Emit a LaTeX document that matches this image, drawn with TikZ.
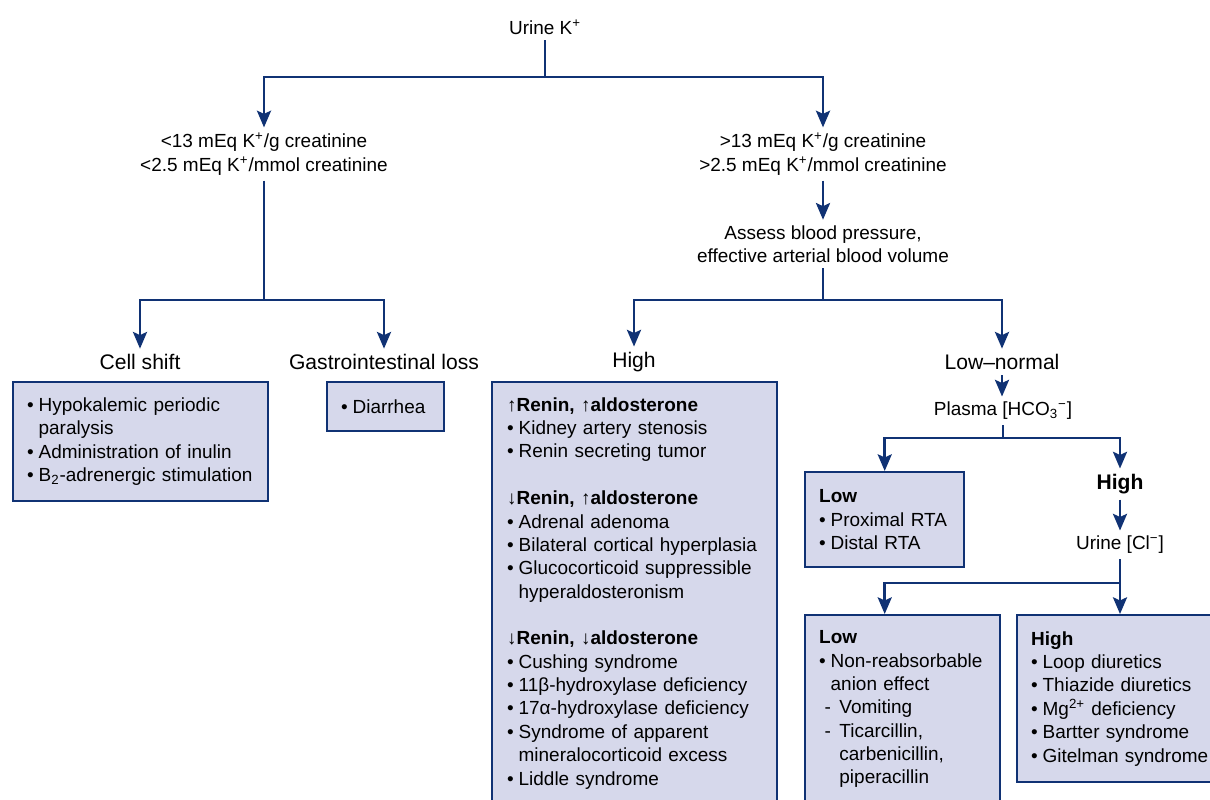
\documentclass[tikz,border=0pt]{standalone}
\usepackage{fontspec}
\setmainfont{Liberation Sans}
\usetikzlibrary{arrows.meta,positioning}
\definecolor{navy}{RGB}{16,50,116}
\definecolor{boxfill}{RGB}{214,216,235}
\newcommand{\bul}{\makebox[6.5pt][l]{\textbullet}}
\newcommand{\ind}{\hspace*{6.5pt}}
\newcommand{\dsh}{\hspace*{3pt}\makebox[8.5pt][l]{-}}
\newcommand{\dind}{\hspace*{11.5pt}}

\begin{document}
\begin{tikzpicture}[x=0.02cm,y=-0.02cm,
  every node/.style={font=\fontsize{10.8}{13.3}\selectfont},
  lbl/.style={align=center,inner sep=3pt},
  head/.style={font=\fontsize{12}{14}\selectfont,inner sep=3pt},
  listbox/.style={draw=navy,fill=boxfill,line width=1.4pt,anchor=north west,align=left,inner xsep=0.28cm,inner ysep=0pt},
  line/.style={draw=navy,line width=1.5pt},
  arr/.style={line,-{Stealth[length=9.5pt,width=8pt,inset=1.8pt]}}
]
\useasboundingbox (0,0) rectangle (1210,799);
\clip (0,0) rectangle (1210,799);

% Urine potassium
\node[lbl] (urine) at (545,27) {Urine K\textsuperscript{+}};
\node[lbl] (lowK) at (264,154) {<13 mEq K\textsuperscript{+}/g creatinine\\<2.5 mEq K\textsuperscript{+}/mmol creatinine};
\node[lbl] (highK) at (823,154) {>13 mEq K\textsuperscript{+}/g creatinine\\>2.5 mEq K\textsuperscript{+}/mmol creatinine};
\node[lbl] (assess) at (823,244) {Assess blood pressure,\\effective arterial blood volume};

% Low urine K
\node[head] (cell) at (140,362) {Cell shift};
\node[head] (gi) at (384,362) {Gastrointestinal loss};
\node[listbox,minimum width=5.1cm,minimum height=2.38cm,text width=4.54cm] (cellbox) at (12,381)
  {\bul Hypokalemic periodic\\
   \ind paralysis\\
   \bul Administration of inulin\\
   \bul B\textsubscript{2}-adrenergic stimulation};
\node[listbox,minimum width=2.34cm,minimum height=0.98cm,text width=1.78cm] (diarbox) at (326,381)
  {\bul Diarrhea};

% High urine K
\node[head] (high) at (634,362) {High};
\node[head] (lownorm) at (1002,362) {Low--normal};
\node[listbox,minimum width=5.7cm,minimum height=8.44cm,text width=5.1cm,inner xsep=0.3cm] (highbox) at (491,381)
  {{\bfseries ↑Renin, ↑aldosterone}\\
   \bul Kidney artery stenosis\\
   \bul Renin secreting tumor\\[13.3pt]
   {\bfseries ↓Renin, ↑aldosterone}\\
   \bul Adrenal adenoma\\
   \bul Bilateral cortical hyperplasia\\
   \bul Glucocorticoid suppressible\\
   \ind hyperaldosteronism\\[13.3pt]
   {\bfseries ↓Renin, ↓aldosterone}\\
   \bul Cushing syndrome\\
   \bul 11β-hydroxylase deficiency\\
   \bul 17α-hydroxylase deficiency\\
   \bul Syndrome of apparent\\
   \ind mineralocorticoid excess\\
   \bul Liddle syndrome};

% Low-normal blood pressure
\node[lbl] (plasma) at (1003,411) {Plasma [HCO\textsubscript{3}\textsuperscript{−}]};
\node[listbox,minimum width=3.18cm,minimum height=1.9cm,text width=2.62cm] (lowbox) at (804,471)
  {{\bfseries Low}\\
   \bul Proximal RTA\\
   \bul Distal RTA};
\node[head,font=\fontsize{12}{14}\selectfont\bfseries] (hcohigh) at (1120,484) {High};
\node[lbl] (urinecl) at (1120,545) {Urine [Cl\textsuperscript{−}]};
\node[listbox,minimum width=3.9cm,minimum height=3.76cm,text width=3.34cm] (clbox) at (804,614)
  {{\bfseries Low}\\
   \bul Non-reabsorbable\\
   \ind anion effect\\
   \dsh Vomiting\\
   \dsh Ticarcillin,\\
   \dind carbenicillin,\\
   \dind piperacillin};
\node[listbox,minimum width=4.4cm,minimum height=3.34cm,text width=3.84cm] (chbox) at (1016,614)
  {{\bfseries High}\\
   \bul Loop diuretics\\
   \bul Thiazide diuretics\\
   \bul Mg\textsuperscript{2+} deficiency\\
   \bul Bartter syndrome\\
   \bul Gitelman syndrome};

% Branch points
\coordinate (s1) at (545,77);
\coordinate (s2) at (264,300);
\coordinate (s3) at (823,300);
\coordinate (s4) at (1003,438);
\coordinate (s5) at (1120,583);

% Arrows
\draw[line] (urine) -- (s1);
\draw[arr] (s1) -| (lowK);
\draw[arr] (s1) -| (highK);
\draw[line] (lowK) -- (s2);
\draw[arr] (s2) -| (cell);
\draw[arr] (s2) -| (gi);
\draw[arr] (highK) -- (assess);
\draw[line] (assess) -- (s3);
\draw[arr] (s3) -| (high);
\draw[arr] (s3) -| (lownorm);
\draw[arr] (lownorm) -- (lownorm |- plasma.north);
\draw[line] (plasma) -- (s4);
\draw[arr] (s4) -| (lowbox);
\draw[arr] (s4) -| (hcohigh);
\draw[arr] (hcohigh) -- (urinecl);
\draw[line] (urinecl) -- (s5);
\draw[arr] (s5) -| (lowbox.south |- clbox.north);
\draw[arr] (s5) -- (s5 |- chbox.north);

\end{tikzpicture}
\end{document}
